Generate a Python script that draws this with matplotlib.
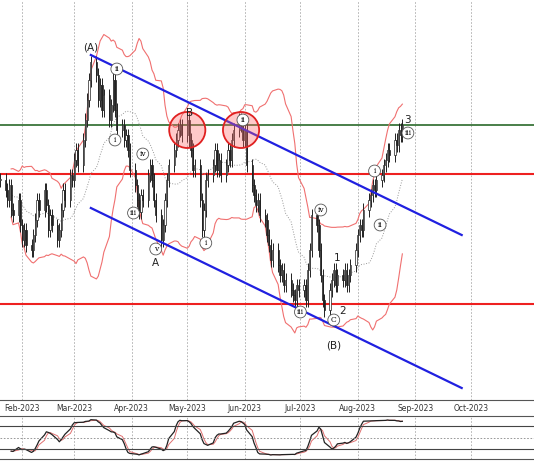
import matplotlib
matplotlib.use("Agg")
import matplotlib.pyplot as plt
import matplotlib.dates as mdates
import numpy as np
import pandas as pd

start = "2023-01-20"
closes = [1.0940,
 1.0920,1.0900,1.0930,1.0880,1.0870,
 1.0900,1.0850,1.0820,1.0840,1.0810,
 1.0800,1.0830,1.0860,1.0900,1.0880,
 1.0920,1.0890,1.0840,1.0870,1.0850,
 1.0820,1.0840,1.0880,1.0920,1.0900,
 1.0950,1.0940,1.0980,1.1000,1.0970,
 1.1020,1.1060,1.1100,1.1140,1.1176,
 1.1150,1.1100,1.1130,1.1080,1.1110,
 1.1060,1.1090,1.1140,1.1080,1.1040,
 1.1050,1.1020,1.1030,1.1000,1.0960,
 1.0930,1.0900,1.0876,1.0910,1.0900,
 1.0950,1.0970,1.0940,1.0900,1.0870,
 1.0820,1.0850,1.0900,1.0940,1.0970,
 1.1000,1.1020,1.1040,1.1050,1.1030,
 1.1060,1.1020,1.1000,1.0960,1.0970,
 1.0900,1.0840,1.0880,1.0940,1.0950,
 1.0970,1.1000,1.0960,1.0980,1.0950,
 1.0970,1.1000,1.0980,1.1020,1.1040,
 1.1060,1.1050,1.1020,1.1040,1.0970,
 1.0930,1.0910,1.0890,1.0900,1.0870,
 1.0860,1.0830,1.0810,1.0780,1.0800,
 1.0770,1.0750,1.0760,1.0730,1.0740,
 1.0720,1.0710,1.0700,1.0730,1.0720,
 1.0730,1.0700,1.0760,1.0800,1.0870,
 1.0850,1.0800,1.0750,1.0700,1.0680,
 1.0720,1.0740,1.0760,1.0730,1.0750,
 1.0740,1.0760,1.0730,1.0750,1.0770,
 1.0800,1.0830,1.0850,1.0840,1.0880,
 1.0900,1.0910,1.0930,1.0920,1.0940,
 1.0950,1.0970,1.0980,1.1000,1.0990,
 1.1020,1.1010,1.1040,1.1030,1.1050]

dates = pd.bdate_range(start, periods=len(closes))
c = pd.Series(closes, index=dates)
o = c.shift(1).fillna(c.iloc[0])
hi = np.maximum(o, c) + 0.0013
lo = np.minimum(o, c) - 0.0013

mid = c.rolling(20, min_periods=5).mean()
sd = c.rolling(20, min_periods=5).std()
upper, lower = mid + 2 * sd, mid - 2 * sd

green_level = 1.1050
red_levels = [1.0952, 1.0692]
chan_upper = (["2023-03-10", "2023-09-26"], [1.1190, 1.0830])
chan_lower = (["2023-03-10", "2023-09-26"], [1.0884, 1.0524])
circles = [("2023-05-01", 1.1040), ("2023-05-30", 1.1040)]
labels = [("2023-03-10", 1.1204, "(A)", False), ("2023-03-24", 1.1162, "ii", True),
          ("2023-03-23", 1.1020, "i", True), ("2023-04-07", 1.0992, "iv", True),
          ("2023-04-02", 1.0874, "iii", True), ("2023-04-14", 1.0802, "v", True),
          ("2023-04-14", 1.0774, "A", False), ("2023-05-02", 1.1074, "B", False),
          ("2023-05-11", 1.0814, "i", True), ("2023-05-31", 1.1060, "ii", True),
          ("2023-07-12", 1.0880, "iv", True), ("2023-07-01", 1.0676, "iii", True),
          ("2023-07-19", 1.0660, "C", True), ("2023-07-19", 1.0610, "(B)", False),
          ("2023-07-21", 1.0784, "1", False), ("2023-07-24", 1.0678, "2", False),
          ("2023-08-10", 1.0958, "i", True), ("2023-08-13", 1.0850, "ii", True),
          ("2023-08-28", 1.1034, "iii", True), ("2023-08-28", 1.1060, "3", False)]

fig = plt.figure(figsize=(5.34, 4.62), dpi=100)
ax = fig.add_axes([0, 62/462, 1, 400/462])
ax2 = fig.add_axes([0, 3/462, 1, 43/462], sharex=ax)

x = mdates.date2num(dates.to_pydatetime())
w = 0.65
for xi, oi, ci, h, l in zip(x, o, c, hi, lo):
    ax.vlines(xi, l, h, color="#222222", lw=0.7, zorder=3)
    col = "white" if ci >= oi else "#222222"
    ax.bar(xi, max(abs(ci - oi), 0.0003), bottom=min(oi, ci), width=w,
           color=col, edgecolor="#222222", lw=0.5, zorder=4)

ax.plot(x, upper, color="#f07070", lw=0.8, zorder=2)
ax.plot(x, lower, color="#f07070", lw=0.8, zorder=2)
ax.plot(x, mid, color="#999999", lw=0.7, ls=":", zorder=2)

ax.axhline(green_level, color="#2a6a2a", lw=1.2, zorder=1)
for r in red_levels:
    ax.axhline(r, color="#ee2020", lw=1.5, zorder=1)
for d, p in (chan_upper, chan_lower):
    ax.plot(pd.to_datetime(d), p, color="#2020e0", lw=1.6, zorder=5)
for d, p in circles:
    xc = mdates.date2num(pd.Timestamp(d))
    ax.add_patch(matplotlib.patches.Ellipse((xc, p), 19.5, 0.0072, facecolor=(1, 0.4, 0.4, 0.35),
                                            edgecolor="#e02020", lw=1.3, zorder=6))
for d, p, t, circ in labels:
    xc = mdates.date2num(pd.Timestamp(d))
    if circ:
        ax.text(xc, p, t, fontsize=5.5, ha="center", va="center", family="DejaVu Serif", zorder=7,
                bbox=dict(boxstyle="circle,pad=0.25", fc="white", ec="#555555", lw=0.6))
    else:
        ax.text(xc, p, t, fontsize=7.5, ha="center", va="center", color="#222222", zorder=7)

xmin, xmax = pd.Timestamp("2023-01-20"), pd.Timestamp("2023-11-04")
ax.set_xlim(xmin, xmax)
ax.set_ylim(1.05, 1.13)
months = pd.date_range("2023-02-01", "2023-10-01", freq="MS")
for m in months:
    ax.axvline(m, color="#aaaaaa", lw=0.6, ls=(0, (2, 2)), zorder=0)
    ax2.axvline(m, color="#aaaaaa", lw=0.6, ls=(0, (2, 2)), zorder=0)
ax.set_xticks(months)
ax.set_xticklabels([m.strftime("%b-%Y") for m in months], fontsize=5.5, color="#333333")
ax.tick_params(axis="x", length=0, pad=3)
ax.set_yticks([])
for s in ["top", "right", "left"]:
    ax.spines[s].set_visible(False)
ax.spines["bottom"].set_color("#555555")

ll = lo.rolling(14, min_periods=5).min()
hh = hi.rolling(14, min_periods=5).max()
k = (100 * (c - ll) / (hh - ll)).rolling(5, min_periods=1).mean()
dline = k.rolling(3, min_periods=1).mean()
ax2.plot(x, dline, color="#e07070", lw=0.7)
ax2.plot(x, k, color="#222222", lw=0.9)
ax2.axhline(80, color="#444444", lw=0.8)
ax2.axhline(20, color="#444444", lw=0.8)
ax2.axhline(50, color="#888888", lw=0.6, ls=(0, (2, 2)))
ax2.set_ylim(-5, 105)
ax2.set_yticks([])
ax2.tick_params(axis="x", length=0, labelbottom=False)
for s in ["right", "left"]:
    ax2.spines[s].set_visible(False)
ax2.spines["top"].set_color("#555555")
ax2.spines["bottom"].set_color("#555555")

fig.savefig("out.png", dpi=100)
